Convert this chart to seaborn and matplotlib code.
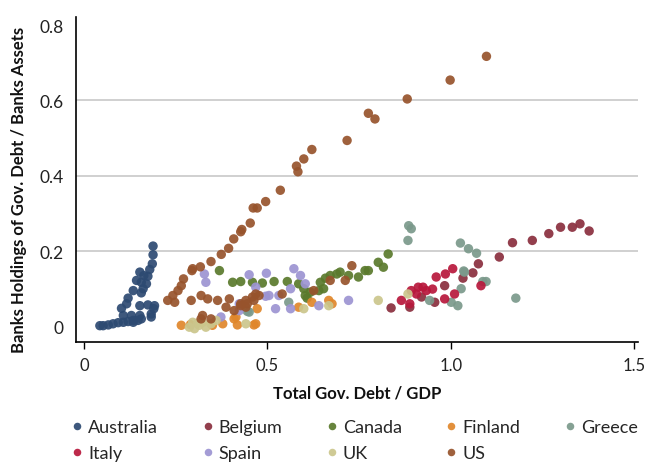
import matplotlib
matplotlib.use("Agg")
import matplotlib.pyplot as plt
import seaborn as sns
import pandas as pd

# Total government debt / GDP (x) and banks' holdings of government debt / bank assets (y)
australia_x = [0.188, 0.188, 0.186, 0.179, 0.152, 0.163, 0.174, 0.143, 0.156, 0.170, 0.134,
               0.161, 0.156, 0.120, 0.116, 0.152, 0.174, 0.192, 0.102, 0.107, 0.129, 0.152,
               0.183, 0.190, 0.134, 0.156, 0.183, 0.052, 0.066, 0.079, 0.093, 0.107, 0.120,
               0.134, 0.147, 0.043]
australia_y = [0.214, 0.191, 0.167, 0.152, 0.145, 0.136, 0.134, 0.123, 0.118, 0.114, 0.096,
               0.101, 0.090, 0.076, 0.061, 0.056, 0.058, 0.056, 0.049, 0.030, 0.030, 0.030,
               0.034, 0.048, 0.017, 0.021, 0.026, 0.003, 0.005, 0.008, 0.011, 0.012, 0.014,
               0.012, 0.017, 0.003]

belgium_x = [1.168, 1.222, 1.267, 1.299, 1.331, 1.352, 1.377, 1.132, 1.075, 1.060, 1.033,
             0.983, 0.920, 0.956, 0.837, 0.888]
belgium_y = [0.223, 0.229, 0.247, 0.264, 0.264, 0.273, 0.254, 0.185, 0.167, 0.143, 0.129,
             0.109, 0.079, 0.065, 0.050, 0.052]

canada_x = [0.369, 0.405, 0.427, 0.459, 0.486, 0.518, 0.554, 0.585, 0.599, 0.603, 0.608,
            0.617, 0.640, 0.644, 0.653, 0.658, 0.671, 0.689, 0.698, 0.721, 0.748, 0.766,
            0.775, 0.802, 0.816, 0.829]
canada_y = [0.149, 0.118, 0.120, 0.118, 0.116, 0.120, 0.120, 0.114, 0.101, 0.083, 0.076,
            0.092, 0.096, 0.118, 0.101, 0.129, 0.136, 0.140, 0.145, 0.136, 0.132, 0.149,
            0.149, 0.171, 0.158, 0.193]

finland_x = [0.265, 0.290, 0.350, 0.378, 0.414, 0.418, 0.409, 0.468, 0.463, 0.472, 0.585,
             0.621, 0.667, 0.676]
finland_y = [0.004, 0.006, 0.004, 0.008, 0.026, 0.005, 0.021, 0.008, 0.005, 0.048, 0.052,
             0.065, 0.070, 0.061]

greece_x = [0.885, 0.892, 0.883, 1.026, 1.048, 1.070, 1.035, 1.037, 1.028, 1.087, 1.096,
            0.942, 1.001, 1.019, 1.177, 0.558, 0.450, 0.445]
greece_y = [0.268, 0.260, 0.229, 0.222, 0.207, 0.195, 0.148, 0.145, 0.101, 0.120, 0.120,
            0.070, 0.065, 0.056, 0.076, 0.065, 0.039, 0.041]

italy_x = [0.960, 0.985, 1.005, 0.892, 0.911, 0.924, 0.933, 0.865, 0.888, 0.983, 1.010,
           1.082, 0.906, 0.950]
italy_y = [0.132, 0.140, 0.154, 0.096, 0.105, 0.105, 0.096, 0.070, 0.061, 0.074, 0.087,
           0.109, 0.087, 0.100]

spain_x = [0.328, 0.332, 0.450, 0.497, 0.468, 0.504, 0.522, 0.423, 0.373, 0.572, 0.590,
           0.603, 0.563, 0.531, 0.495, 0.563, 0.640, 0.721, 0.423]
spain_y = [0.140, 0.118, 0.138, 0.142, 0.105, 0.083, 0.048, 0.043, 0.026, 0.154, 0.136,
           0.114, 0.101, 0.083, 0.081, 0.048, 0.056, 0.070, 0.061]

uk_x = [0.287, 0.301, 0.314, 0.332, 0.323, 0.346, 0.360, 0.296, 0.310, 0.441, 0.599,
        0.667, 0.802, 0.883]
uk_y = [-0.001, -0.005, 0.004, -0.001, 0.012, 0.008, 0.017, 0.012, 0.010, 0.008, 0.048,
        0.056, 0.070, 0.087]

us_x = [1.097, 0.998, 0.881, 0.775, 0.793, 0.717, 0.621, 0.599, 0.579, 0.583, 0.535,
        0.495, 0.472, 0.461, 0.453, 0.430, 0.427, 0.408, 0.394, 0.374, 0.346, 0.317,
        0.296, 0.294, 0.271, 0.265, 0.256, 0.242, 0.228, 0.247, 0.292, 0.319, 0.337,
        0.364, 0.396, 0.387, 0.409, 0.427, 0.445, 0.463, 0.477, 0.323, 0.346, 0.319,
        0.468, 0.459, 0.441, 0.427, 0.441, 0.540, 0.626, 0.671, 0.712, 0.730]
us_y = [0.717, 0.654, 0.604, 0.566, 0.551, 0.494, 0.470, 0.445, 0.426, 0.411, 0.362,
        0.332, 0.315, 0.315, 0.275, 0.258, 0.252, 0.233, 0.208, 0.192, 0.173, 0.159,
        0.154, 0.149, 0.127, 0.109, 0.096, 0.083, 0.070, 0.065, 0.070, 0.083, 0.074,
        0.070, 0.074, 0.052, 0.043, 0.056, 0.061, 0.070, 0.083, 0.030, 0.021, 0.021,
        0.087, 0.079, 0.070, 0.061, 0.052, 0.087, 0.096, 0.123, 0.123, 0.162]

countries = ["Australia", "Belgium", "Canada", "Finland", "Greece",
             "Italy", "Spain", "UK", "US"]
colors = ["#2d4a72", "#8a2e3e", "#5a7a2c", "#e0872b", "#7b998b",
          "#b8183c", "#9c94d2", "#cbc68c", "#97532c"]

series = {
    "Australia": (australia_x, australia_y),
    "Belgium": (belgium_x, belgium_y),
    "Canada": (canada_x, canada_y),
    "Finland": (finland_x, finland_y),
    "Greece": (greece_x, greece_y),
    "Italy": (italy_x, italy_y),
    "Spain": (spain_x, spain_y),
    "UK": (uk_x, uk_y),
    "US": (us_x, us_y),
}

frames = [pd.DataFrame({"debt_gdp": xs, "bank_share": ys, "country": name})
          for name, (xs, ys) in series.items()]
df = pd.concat(frames, ignore_index=True)

sns.set_theme(style="white")
plt.rcParams["font.family"] = ["Lato", "DejaVu Sans"]

fig = plt.figure(figsize=(6.47, 4.64), dpi=100)
ax = fig.add_axes([0.1175, 0.261, 0.8685, 0.700])

sns.scatterplot(data=df, x="debt_gdp", y="bank_share", hue="country",
                hue_order=countries, palette=colors, s=46, alpha=0.92,
                linewidth=0, ax=ax, legend=True)

ax.set_xlim(-0.022, 1.51)
ax.set_ylim(-0.040, 0.821)
ax.set_xticks([0, 0.5, 1.0, 1.5])
ax.set_xticklabels(["0", "0.5", "1.0", "1.5"])
ax.set_yticks([0, 0.2, 0.4, 0.6, 0.8])
ax.set_yticklabels(["0", "0.2", "0.4", "0.6", "0.8"])

ax.tick_params(axis="x", length=5, width=1, color="black", pad=6,
               labelsize=12, labelcolor="#222222", bottom=True)
ax.tick_params(axis="y", length=0, pad=9, labelsize=12.5, labelcolor="#222222")

# horizontal reference lines only at the interior ticks
for yv in (0.2, 0.4, 0.6):
    ax.axhline(yv, color="#c8c8c8", lw=1.2, zorder=0)

for side in ("top", "right"):
    ax.spines[side].set_visible(False)
for side in ("left", "bottom"):
    ax.spines[side].set_color("black")
    ax.spines[side].set_linewidth(1.2)

ax.set_xlabel("Total Gov. Debt / GDP", fontsize=12, fontweight="bold",
              color="#111111", labelpad=8)
ax.set_ylabel("Banks Holdings of Gov. Debt / Banks Assets", fontsize=12,
              fontweight="bold", color="#111111")
ax.yaxis.set_label_coords(-0.088, 0.47)

# legend laid out row by row under the plot
handles, labels = ax.get_legend_handles_labels()
lookup = dict(zip(labels, handles))
order = ["Australia", "Italy", "Belgium", "Spain", "Canada", "UK",
         "Finland", "US", "Greece"]
ax.legend([lookup[k] for k in order], order, ncol=5, frameon=False,
          loc="upper left", bbox_to_anchor=(0.107, 0.094),
          bbox_transform=fig.transFigure, fontsize=13, markerscale=0.8,
          handletextpad=0.15, columnspacing=2.3, labelspacing=0.55,
          handlelength=0.9, borderpad=0, borderaxespad=0)

fig.savefig("out.png", dpi=100)
